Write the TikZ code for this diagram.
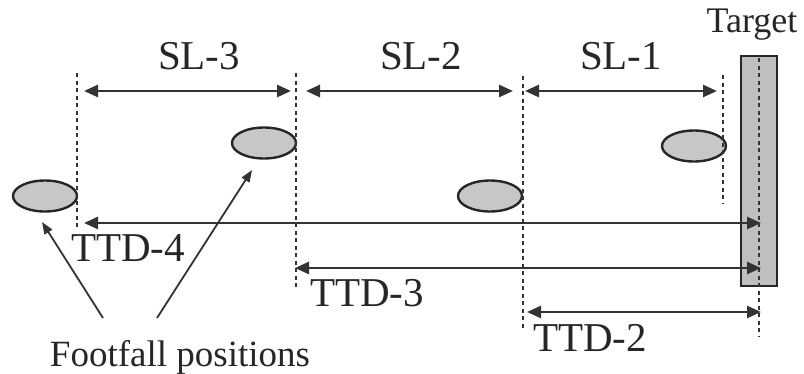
\documentclass[tikz,border=0pt]{standalone}
\usepackage{fontspec}
\setmainfont{Liberation Serif}
\usetikzlibrary{arrows.meta,shapes.geometric}
\begin{document}
\begin{tikzpicture}[x=1pt,y=-1pt,
  guide/.style={draw=black!80,line width=1.6pt,dash pattern=on 4pt off 3.5pt},
  span/.style={draw=black!80,line width=2.6pt,{Triangle[length=14pt,width=12pt]}-{Triangle[length=14pt,width=12pt]}},
  pointer/.style={draw=black!80,line width=1.8pt,-{Triangle[length=12pt,width=9pt]}},
  foot/.style={ellipse,draw=black!85,line width=2.4pt,fill=black!22,minimum width=64pt,minimum height=31pt,inner sep=0pt},
  lbl/.style={font=\fontsize{41}{41}\selectfont,text=black!85,inner sep=0pt},
]
\useasboundingbox (0,0) rectangle (804,373);

% target board
\node[draw=black!85,line width=2.2pt,fill=black!25,minimum width=36pt,minimum height=230pt,inner sep=0pt] (tgt) at (759,171) {};
\node[font=\fontsize{36}{36}\selectfont,text=black!85,anchor=base] (tgtlbl) at (752,32) {Target};

% footfall positions
\node[foot] (f4) at (45,196) {};
\node[foot] (f3) at (264,143) {};
\node[foot] (f2) at (490,196) {};
\node[foot] (f1) at (694,146) {};

% vertical guide lines
\coordinate (g4t) at (77,73);   \coordinate (g4b) at (77,230);
\coordinate (g3t) at (296,73);  \coordinate (g3b) at (296,290);
\coordinate (g2t) at (523,76);  \coordinate (g2b) at (523,330);
\coordinate (g1t) at (723,75);  \coordinate (g1b) at (723,204);
\coordinate (gtt) at (759,58);  \coordinate (gtb) at (759,336);
\draw[guide] (g4t) -- (g4b);
\draw[guide] (g3t) -- (g3b);
\draw[guide] (g2t) -- (g2b);
\draw[guide] (g1t) -- (g1b);
\draw[guide] (gtt) -- (gtb);

% step lengths
\coordinate (s3a) at (84,91);  \coordinate (s3b) at (291,91);
\coordinate (s2a) at (306,91); \coordinate (s2b) at (513,91);
\coordinate (s1a) at (525,91); \coordinate (s1b) at (717,91);
\draw[span] (s3a) -- (s3b);
\draw[span] (s2a) -- (s2b);
\draw[span] (s1a) -- (s1b);
\node[lbl] (sl3) at (199,56) {SL-3};
\node[lbl] (sl2) at (421,56) {SL-2};
\node[lbl] (sl1) at (621,56) {SL-1};

% distances to target
\coordinate (t4a) at (84,223);  \coordinate (t4b) at (761,223);
\coordinate (t3a) at (295,268); \coordinate (t3b) at (761,268);
\coordinate (t2a) at (527,312); \coordinate (t2b) at (761,312);
\draw[span] (t4a) -- (t4b);
\draw[span] (t3a) -- (t3b);
\draw[span] (t2a) -- (t2b);
\node[lbl] (ttd4) at (128,248) {TTD-4};
\node[lbl] (ttd3) at (367,293) {TTD-3};
\node[lbl] (ttd2) at (590,338) {TTD-2};

% caption with pointers
\node[font=\fontsize{37}{37}\selectfont,text=black!85,anchor=base] (cap) at (180,366) {Footfall positions};
\coordinate (p1) at (103,318);
\coordinate (p2) at (157,318);
\draw[pointer] (p1) -- (42,222);
\draw[pointer] (p2) -- (252,170);
\end{tikzpicture}
\end{document}
